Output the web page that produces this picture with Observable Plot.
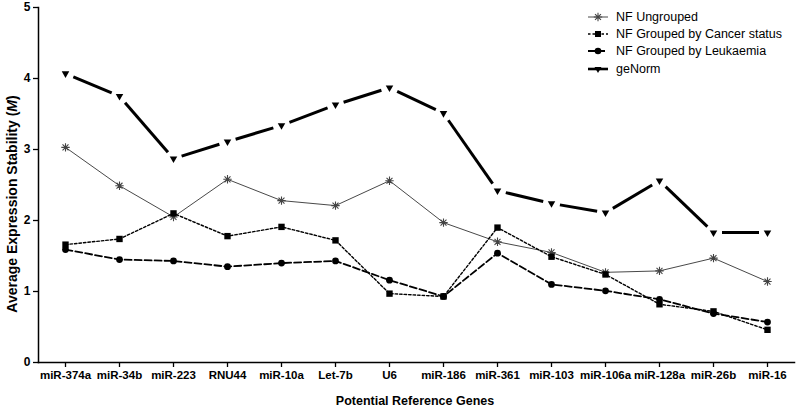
<!DOCTYPE html>
<html>
<head>
<meta charset="utf-8">
<script src="https://cdn.jsdelivr.net/npm/d3@7"></script>
<script src="https://cdn.jsdelivr.net/npm/@observablehq/plot@0.6"></script>
<style>
  html, body { margin: 0; padding: 0; background: #fff; }
  #wrap { position: relative; width: 796px; height: 410px; font-family: "Liberation Sans", Arial, sans-serif; }
  #legend { position: absolute; left: 586px; top: 8px; font-size: 12.5px; color: #000; }
  .row { display: flex; align-items: center; height: 17.3px; }
  .row svg { margin-right: 6px; }
</style>
</head>
<body>
<div id="wrap"><div id="legend"></div></div>
<script>
const genes = ["miR-374a","miR-34b","miR-223","RNU44","miR-10a","Let-7b","U6","miR-186","miR-361","miR-103","miR-106a","miR-128a","miR-26b","miR-16"];
const nfUngrouped = [3.03,2.49,2.05,2.58,2.28,2.21,2.56,1.97,1.70,1.55,1.27,1.29,1.47,1.14];
const nfCancer    = [1.66,1.74,2.10,1.78,1.91,1.72,0.97,0.93,1.90,1.49,1.24,0.82,0.72,0.46];
const nfLeuk      = [1.59,1.45,1.43,1.35,1.40,1.43,1.16,0.93,1.54,1.10,1.01,0.89,0.69,0.57];
const geNorm      = [4.07,3.75,2.87,3.11,3.34,3.63,3.87,3.51,2.42,2.24,2.11,2.56,1.83,1.83];
const seriesNames = ["NF Ungrouped","NF Grouped by Cancer status","NF Grouped by Leukaemia","geNorm"];
const yTicks = [0,1,2,3,4,5];

const toRows = (vals) => genes.map((g, i) => ({gene: g, value: vals[i]}));
const dUng = toRows(nfUngrouped), dCan = toRows(nfCancer), dLeu = toRows(nfLeuk), dGen = toRows(geNorm);
// consecutive segments of geNorm (line is broken around its markers)
const genSegs = genes.slice(1).map((g, i) => ({g1: genes[i], v1: geNorm[i], g2: g, v2: geNorm[i + 1]}));

const asterisk8 = {
  draw(ctx, size) {
    const r = Math.sqrt(size / Math.PI);
    for (let k = 0; k < 4; k++) {
      const a = k * Math.PI / 4;
      ctx.moveTo(r * Math.cos(a), r * Math.sin(a));
      ctx.lineTo(-r * Math.cos(a), -r * Math.sin(a));
    }
  }
};

const chart = Plot.plot({
  width: 796,
  height: 410,
  marginLeft: 38,
  marginRight: 2,
  marginTop: 7,
  marginBottom: 48,
  style: {fontFamily: "'Liberation Sans', Arial, sans-serif", color: "#000", background: "#fff"},
  x: {type: "point", domain: genes, padding: 0.5, label: null},
  y: {domain: [0, 5], label: null},
  marks: [
    Plot.axisY({ticks: yTicks, tickFormat: "d", tickSize: 5, tickPadding: 3, fontSize: 12, fontWeight: "bold", label: null, strokeWidth: 1.3}),
    Plot.axisX({tickSize: 5, tickPadding: 3, fontSize: 11.5, fontWeight: "bold", label: null, strokeWidth: 1.3}),
    Plot.frame({anchor: "left", strokeWidth: 1.5}),
    Plot.frame({anchor: "bottom", strokeWidth: 1.5}),
    // NF Ungrouped
    Plot.line(dUng, {x: "gene", y: "value", stroke: "#333", strokeWidth: 0.9}),
    Plot.dot(dUng, {x: "gene", y: "value", symbol: asterisk8, r: 4.2, fill: "none", stroke: "#444", strokeWidth: 1.1}),
    // NF Cancer status
    Plot.line(dCan, {x: "gene", y: "value", stroke: "#000", strokeWidth: 1.4, strokeDasharray: "2.5,2"}),
    Plot.dot(dCan, {x: "gene", y: "value", symbol: "square", r: 3.6, fill: "#000", stroke: "none"}),
    // NF Leukaemia
    Plot.line(dLeu, {x: "gene", y: "value", stroke: "#000", strokeWidth: 1.8, strokeDasharray: "7,3"}),
    Plot.dot(dLeu, {x: "gene", y: "value", symbol: "circle", r: 3.4, fill: "#000", stroke: "none"}),
    // geNorm
    Plot.arrow(genSegs, {x1: "g1", y1: "v1", x2: "g2", y2: "v2", insetStart: 8.5, insetEnd: 8.5, headLength: 0, stroke: "#000", strokeWidth: 3, strokeLinecap: "butt"}),
    Plot.dot(dGen, {x: "gene", y: "value", symbol: "triangle", r: 2.8, rotate: 180, fill: "#000", stroke: "none"})
  ]
});

const svg = d3.select(chart);
svg.append("text")
  .attr("transform", "translate(13,204) rotate(-90)")
  .attr("text-anchor", "middle")
  .attr("dominant-baseline", "middle")
  .attr("font-weight", "bold")
  .attr("font-size", 14)
  .attr("fill", "#000")
  .call(t => {
    t.append("tspan").text("Average Expression Stability (");
    t.append("tspan").attr("font-style", "italic").text("M");
    t.append("tspan").text(")");
  });
svg.append("text")
  .attr("x", 415)
  .attr("y", 402)
  .attr("text-anchor", "middle")
  .attr("dominant-baseline", "middle")
  .attr("font-weight", "bold")
  .attr("font-size", 12.5)
  .attr("fill", "#000")
  .text("Potential Reference Genes");

document.getElementById("wrap").prepend(chart);

// Legend
const legend = d3.select("#legend");
const swatches = [
  (g) => { g.append("line").attr("x1", 2).attr("x2", 22).attr("y1", 6).attr("y2", 6).attr("stroke", "#333").attr("stroke-width", 0.9);
           const p = d3.path(); asterisk8.draw(p, Math.PI * 4.2 * 4.2);
           g.append("path").attr("d", p.toString()).attr("transform", "translate(12,6)").attr("stroke", "#444").attr("fill", "none").attr("stroke-width", 1.1); },
  (g) => { g.append("line").attr("x1", 2).attr("x2", 22).attr("y1", 6).attr("y2", 6).attr("stroke", "#000").attr("stroke-width", 1.4).attr("stroke-dasharray", "2.5,2");
           g.append("rect").attr("x", 9).attr("y", 3).attr("width", 6).attr("height", 6).attr("fill", "#000"); },
  (g) => { g.append("line").attr("x1", 2).attr("x2", 22).attr("y1", 6).attr("y2", 6).attr("stroke", "#000").attr("stroke-width", 1.8).attr("stroke-dasharray", "7,3");
           g.append("circle").attr("cx", 12).attr("cy", 6).attr("r", 3.3).attr("fill", "#000"); },
  (g) => { g.append("line").attr("x1", 2).attr("x2", 22).attr("y1", 6).attr("y2", 6).attr("stroke", "#000").attr("stroke-width", 2.6);
           g.append("path").attr("d", "M8.5,4 L15.5,4 L12,10 Z").attr("fill", "#000"); }
];
seriesNames.forEach((name, i) => {
  const row = legend.append("div").attr("class", "row");
  const s = row.append("svg").attr("width", 24).attr("height", 12);
  swatches[i](s);
  row.append("span").text(name);
});
</script>
</body>
</html>
